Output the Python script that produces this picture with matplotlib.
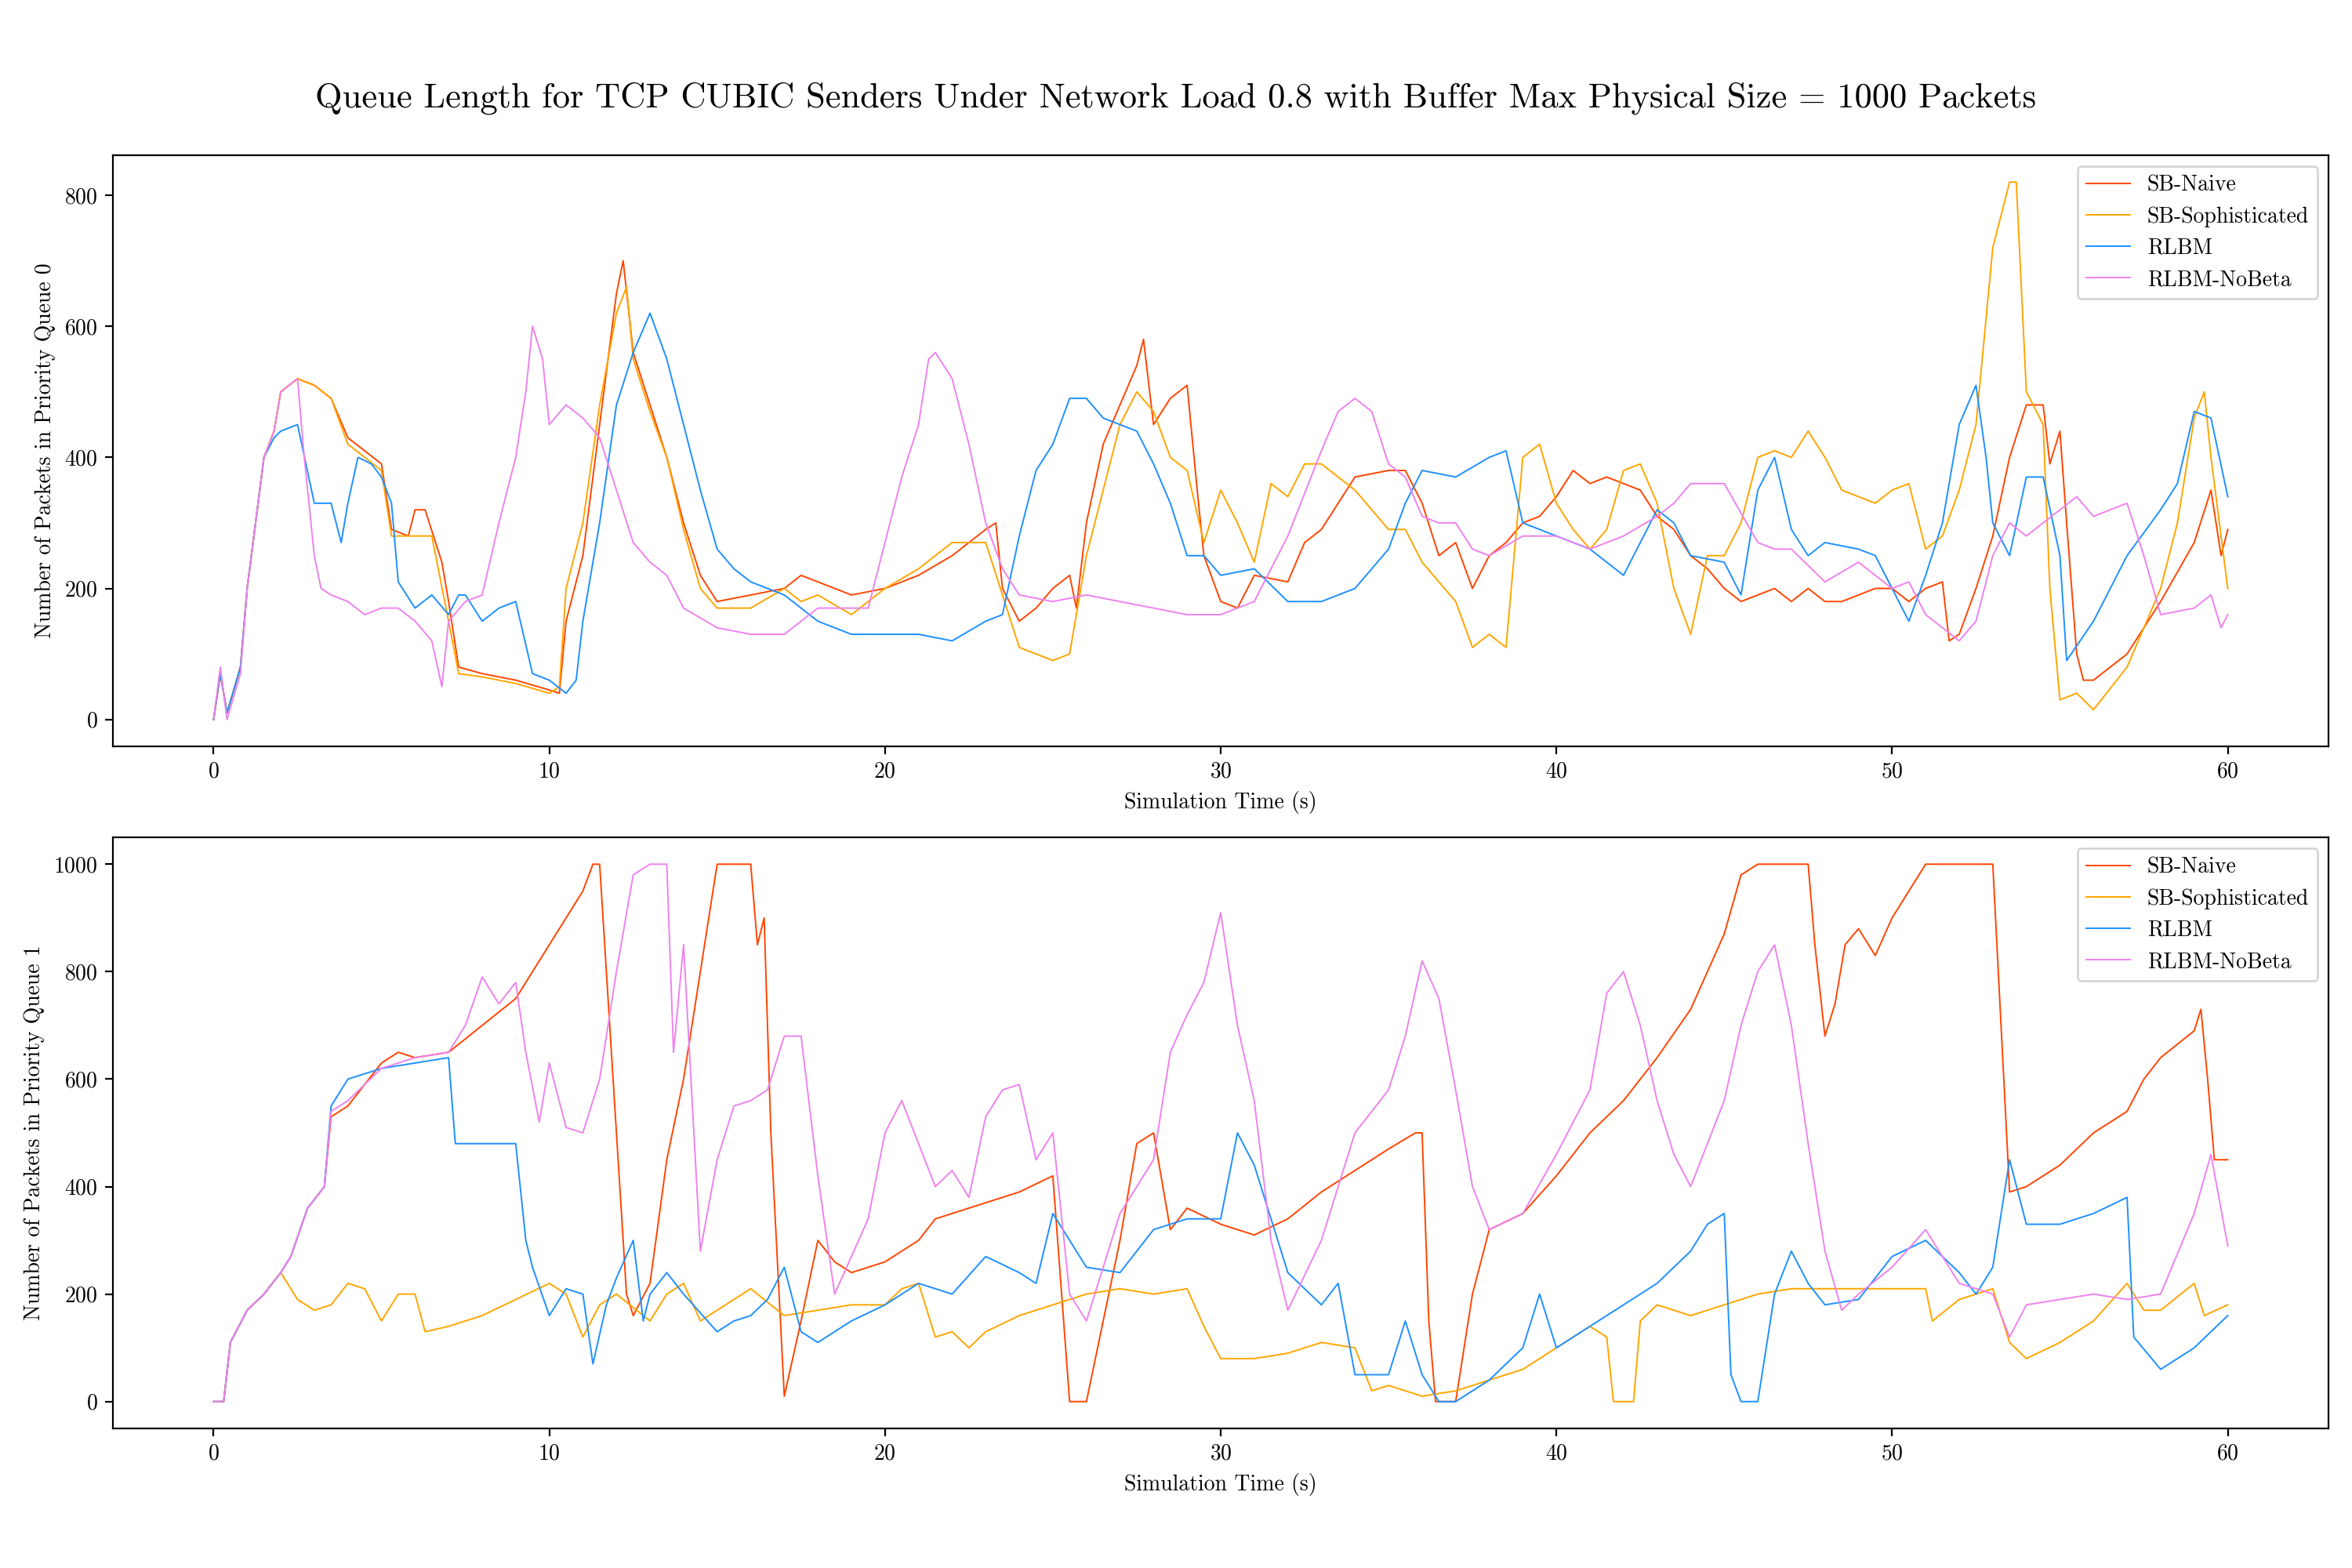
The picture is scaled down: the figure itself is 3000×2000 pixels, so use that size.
import numpy as np
import matplotlib
matplotlib.use("Agg")
import matplotlib.pyplot as plt

plt.rcParams['font.family'] = 'serif'
plt.rcParams['font.serif'] = ['cmr10', 'DejaVu Serif']
plt.rcParams['mathtext.fontset'] = 'cm'
plt.rcParams['axes.formatter.use_mathtext'] = True

labels = ["SB-Naive", "SB-Sophisticated", "RLBM", "RLBM-NoBeta"]
colors = ["orangered", "orange", "dodgerblue", "violet"]

# ---- priority queue 0 (time s, packets)
q0_naive = [(0,0),(0.2,70),(0.4,10),(0.8,80),(1,200),(1.5,400),(1.8,440),(2,500),(2.5,520),(3,510),(3.5,490),(4,430),(4.5,410),(5,390),(5.3,290),(5.8,280),(6,320),(6.3,320),(6.8,240),(7,180),(7.3,80),(8,70),(9,60),(10,45),(10.3,40),(10.5,150),(11,250),(11.5,450),(12,650),(12.2,700),(12.5,560),(13,480),(13.5,400),(14,300),(14.5,220),(15,180),(16,190),(17,200),(17.5,220),(18,210),(19,190),(20,200),(21,220),(22,250),(23,290),(23.3,300),(23.5,200),(24,150),(24.5,170),(25,200),(25.5,220),(25.7,170),(26,300),(26.5,420),(27,480),(27.5,540),(27.7,580),(28,450),(28.5,490),(29,510),(29.3,350),(29.5,250),(30,180),(30.5,170),(31,220),(32,210),(32.5,270),(33,290),(33.5,330),(34,370),(35,380),(35.5,380),(36,330),(36.5,250),(37,270),(37.5,200),(38,250),(38.5,270),(39,300),(39.5,310),(40,340),(40.5,380),(41,360),(41.5,370),(42,360),(42.5,350),(43,310),(43.5,290),(44,250),(44.5,230),(45,200),(45.5,180),(46,190),(46.5,200),(47,180),(47.5,200),(48,180),(48.5,180),(49,190),(49.5,200),(50,200),(50.5,180),(51,200),(51.5,210),(51.7,120),(52,130),(52.5,200),(53,280),(53.5,400),(54,480),(54.5,480),(54.7,390),(55,440),(55.2,300),(55.5,100),(55.7,60),(56,60),(57,100),(58,180),(59,270),(59.5,350),(59.8,250),(60,290)]
q0_soph = [(0,0),(0.2,70),(0.4,10),(0.8,80),(1,200),(1.5,400),(1.8,440),(2,500),(2.5,520),(3,510),(3.5,490),(4,420),(4.5,400),(5,380),(5.3,280),(6,280),(6.5,280),(7,150),(7.3,70),(8,65),(9,55),(10,40),(10.3,50),(10.5,200),(11,300),(11.5,480),(12,620),(12.3,660),(12.5,550),(13,470),(13.5,400),(14,290),(14.5,200),(15,170),(16,170),(17,200),(17.5,180),(18,190),(19,160),(20,200),(21,230),(22,270),(23,270),(23.5,190),(24,110),(25,90),(25.5,100),(26,250),(26.5,350),(27,450),(27.5,500),(28,470),(28.5,400),(29,380),(29.5,270),(30,350),(30.5,300),(31,240),(31.5,360),(32,340),(32.5,390),(33,390),(33.5,370),(34,350),(35,290),(35.5,290),(36,240),(36.5,210),(37,180),(37.5,110),(38,130),(38.5,110),(39,400),(39.5,420),(40,330),(40.5,290),(41,260),(41.5,290),(42,380),(42.5,390),(43,330),(43.5,200),(44,130),(44.5,250),(45,250),(45.5,300),(46,400),(46.5,410),(47,400),(47.5,440),(48,400),(48.5,350),(49,340),(49.5,330),(50,350),(50.5,360),(51,260),(51.5,280),(52,350),(52.5,450),(53,720),(53.5,820),(53.7,820),(54,500),(54.5,450),(54.7,200),(55,30),(55.5,40),(56,15),(57,80),(58,200),(58.5,300),(59,460),(59.3,500),(59.5,400),(60,200)]
q0_rlbm = [(0,0),(0.2,70),(0.4,10),(0.8,80),(1,200),(1.5,400),(1.8,430),(2,440),(2.5,450),(3,330),(3.5,330),(3.8,270),(4,330),(4.3,400),(4.7,390),(5,370),(5.3,330),(5.5,210),(6,170),(6.5,190),(7,160),(7.3,190),(7.5,190),(8,150),(8.5,170),(9,180),(9.5,70),(10,60),(10.5,40),(10.8,60),(11,150),(11.5,300),(12,480),(12.5,560),(13,620),(13.5,550),(14,450),(14.5,350),(15,260),(15.5,230),(16,210),(17,190),(18,150),(19,130),(20,130),(21,130),(22,120),(23,150),(23.5,160),(24,280),(24.5,380),(25,420),(25.5,490),(26,490),(26.5,460),(27,450),(27.5,440),(28,390),(28.5,330),(29,250),(29.5,250),(30,220),(31,230),(32,180),(33,180),(34,200),(35,260),(35.5,330),(36,380),(37,370),(38,400),(38.5,410),(39,300),(40,280),(40.5,270),(41,260),(42,220),(43,320),(43.5,300),(44,250),(45,240),(45.5,190),(46,350),(46.5,400),(47,290),(47.5,250),(48,270),(49,260),(49.5,250),(50,200),(50.5,150),(51,220),(51.5,300),(52,450),(52.5,510),(52.8,400),(53,300),(53.5,250),(54,370),(54.5,370),(55,250),(55.2,90),(56,150),(57,250),(58,320),(58.5,360),(59,470),(59.5,460),(60,340)]
q0_nobeta = [(0,0),(0.2,80),(0.4,0),(0.8,70),(1,200),(1.5,400),(1.8,440),(2,500),(2.5,520),(2.7,400),(3,250),(3.2,200),(3.5,190),(4,180),(4.5,160),(5,170),(5.5,170),(6,150),(6.5,120),(6.8,50),(7,150),(7.5,180),(8,190),(8.5,300),(9,400),(9.3,500),(9.5,600),(9.8,550),(10,450),(10.5,480),(11,460),(11.5,430),(12,350),(12.5,270),(13,240),(13.5,220),(14,170),(15,140),(16,130),(17,130),(18,170),(19,170),(19.5,170),(20,270),(20.5,370),(21,450),(21.3,550),(21.5,560),(22,520),(22.5,420),(23,300),(23.5,230),(24,190),(25,180),(26,190),(27,180),(28,170),(29,160),(30,160),(30.5,170),(31,180),(32,280),(33,410),(33.5,470),(34,490),(34.5,470),(35,390),(35.5,370),(36,310),(36.5,300),(37,300),(37.5,260),(38,250),(39,280),(40,280),(41,260),(42,280),(43,310),(43.5,330),(44,360),(45,360),(46,270),(46.5,260),(47,260),(48,210),(49,240),(50,200),(50.5,210),(51,160),(52,120),(52.5,150),(53,250),(53.5,300),(54,280),(55,320),(55.5,340),(56,310),(57,330),(57.5,250),(58,160),(59,170),(59.5,190),(59.8,140),(60,160)]

# ---- priority queue 1
q1_naive = [(0,0),(0.3,0),(0.5,110),(1,170),(1.5,200),(2,240),(2.3,270),(2.8,360),(3.3,400),(3.5,530),(4,550),(5,630),(5.5,650),(6,640),(7,650),(8,700),(9,750),(10,850),(10.5,900),(11,950),(11.3,1000),(11.5,1000),(11.8,700),(12,500),(12.3,200),(12.5,160),(13,220),(13.5,450),(14,600),(14.5,800),(15,1000),(16,1000),(16.2,850),(16.4,900),(16.6,500),(17,10),(17.5,150),(18,300),(18.5,260),(19,240),(20,260),(21,300),(21.5,340),(22,350),(23,370),(24,390),(25,420),(25.5,0),(26,0),(26.5,150),(27,300),(27.5,480),(28,500),(28.5,320),(29,360),(30,330),(31,310),(32,340),(33,390),(34,430),(35,470),(35.8,500),(36,500),(36.2,150),(36.4,0),(37,0),(37.5,200),(38,320),(39,350),(40,420),(41,500),(42,560),(43,640),(44,730),(45,870),(45.5,980),(46,1000),(47,1000),(47.5,1000),(47.7,850),(48,680),(48.3,740),(48.6,850),(49,880),(49.5,830),(50,900),(51,1000),(52,1000),(53,1000),(53.5,390),(54,400),(55,440),(56,500),(57,540),(57.5,600),(58,640),(59,690),(59.2,730),(59.4,600),(59.6,450),(60,450)]
q1_soph = [(0,0),(0.3,0),(0.5,110),(1,170),(1.5,200),(2,240),(2.5,190),(3,170),(3.5,180),(4,220),(4.5,210),(5,150),(5.5,200),(6,200),(6.3,130),(7,140),(8,160),(9,190),(10,220),(10.5,200),(11,120),(11.5,180),(12,200),(13,150),(13.5,200),(14,220),(14.5,150),(15,170),(16,210),(17,160),(18,170),(19,180),(20,180),(20.5,210),(21,220),(21.5,120),(22,130),(22.5,100),(23,130),(24,160),(25,180),(26,200),(27,210),(28,200),(29,210),(29.5,140),(30,80),(31,80),(32,90),(33,110),(34,100),(34.5,20),(35,30),(36,10),(37,20),(38,40),(39,60),(40,100),(41,140),(41.5,120),(41.7,0),(42,0),(42.3,0),(42.5,150),(43,180),(44,160),(45,180),(46,200),(47,210),(48,210),(49,210),(50,210),(51,210),(51.2,150),(52,190),(53,210),(53.5,110),(54,80),(55,110),(56,150),(57,220),(57.5,170),(58,170),(59,220),(59.3,160),(60,180)]
q1_rlbm = [(0,0),(0.3,0),(0.5,110),(1,170),(1.5,200),(2,240),(2.3,270),(2.8,360),(3.3,400),(3.5,550),(4,600),(5,620),(6,630),(7,640),(7.2,480),(8,480),(9,480),(9.3,300),(9.5,250),(10,160),(10.5,210),(11,200),(11.3,70),(11.7,180),(12,230),(12.5,300),(12.8,150),(13,200),(13.5,240),(14,200),(15,130),(15.5,150),(16,160),(16.5,190),(17,250),(17.5,130),(18,110),(19,150),(20,180),(21,220),(22,200),(23,270),(24,240),(24.5,220),(25,350),(25.5,300),(26,250),(27,240),(27.5,280),(28,320),(29,340),(30,340),(30.5,500),(31,440),(31.5,340),(32,240),(33,180),(33.5,220),(34,50),(35,50),(35.5,150),(36,50),(36.5,0),(37,0),(38,40),(39,100),(39.5,200),(40,100),(41,140),(42,180),(43,220),(44,280),(44.5,330),(45,350),(45.2,50),(45.5,0),(46,0),(46.5,200),(47,280),(47.5,220),(48,180),(49,190),(50,270),(51,300),(52,240),(52.5,200),(53,250),(53.5,450),(54,330),(55,330),(56,350),(57,380),(57.2,120),(58,60),(59,100),(60,160)]
q1_nobeta = [(0,0),(0.3,0),(0.5,110),(1,170),(1.5,200),(2,240),(2.3,270),(2.8,360),(3.3,400),(3.5,540),(4,560),(5,620),(6,640),(7,650),(7.5,700),(8,790),(8.5,740),(9,780),(9.3,650),(9.7,520),(10,630),(10.5,510),(11,500),(11.5,600),(12,800),(12.5,980),(13,1000),(13.5,1000),(13.7,650),(14,850),(14.5,280),(15,450),(15.5,550),(16,560),(16.5,580),(17,680),(17.5,680),(18,420),(18.5,200),(19,270),(19.5,340),(20,500),(20.5,560),(21,480),(21.5,400),(22,430),(22.5,380),(23,530),(23.5,580),(24,590),(24.5,450),(25,500),(25.5,200),(26,150),(27,350),(28,450),(28.5,650),(29,720),(29.5,780),(30,910),(30.5,700),(31,560),(31.5,300),(32,170),(33,300),(34,500),(35,580),(35.5,680),(36,820),(36.5,750),(37,580),(37.5,400),(38,320),(39,350),(40,460),(41,580),(41.5,760),(42,800),(42.5,700),(43,560),(43.5,460),(44,400),(45,560),(45.5,700),(46,800),(46.5,850),(47,700),(47.5,480),(48,280),(48.5,170),(49,200),(50,250),(51,320),(52,220),(53,200),(53.5,120),(54,180),(55,190),(56,200),(57,190),(58,200),(59,350),(59.5,460),(60,290)]

panels = [
    ([q0_naive, q0_soph, q0_rlbm, q0_nobeta], "Number of Packets in Priority Queue 0", [0, 200, 400, 600, 800]),
    ([q1_naive, q1_soph, q1_rlbm, q1_nobeta], "Number of Packets in Priority Queue 1", [0, 200, 400, 600, 800, 1000]),
]

fig = plt.figure(figsize=(15, 10), dpi=200)
boxes = [[0.048, 0.524, 0.942, 0.377], [0.048, 0.089, 0.942, 0.377]]

for box, (series, ylab, yt) in zip(boxes, panels):
    ax = fig.add_axes(box)
    for s, lab, c in zip(series, labels, colors):
        arr = np.array(s)
        ax.plot(arr[:, 0], arr[:, 1], color=c, lw=0.7, label=lab)
    ax.set_xlim(-3, 63)
    ax.set_xticks([0, 10, 20, 30, 40, 50, 60])
    ax.set_yticks(yt)
    ax.set_xlabel("Simulation Time (s)")
    ax.set_ylabel(ylab)
    ax.legend(loc="upper right")

fig.suptitle("Queue Length for TCP CUBIC Senders Under Network Load 0.8 with Buffer Max Physical Size = 1000 Packets",
             fontsize=16, y=0.948)
fig.savefig("out.png", dpi=200)
